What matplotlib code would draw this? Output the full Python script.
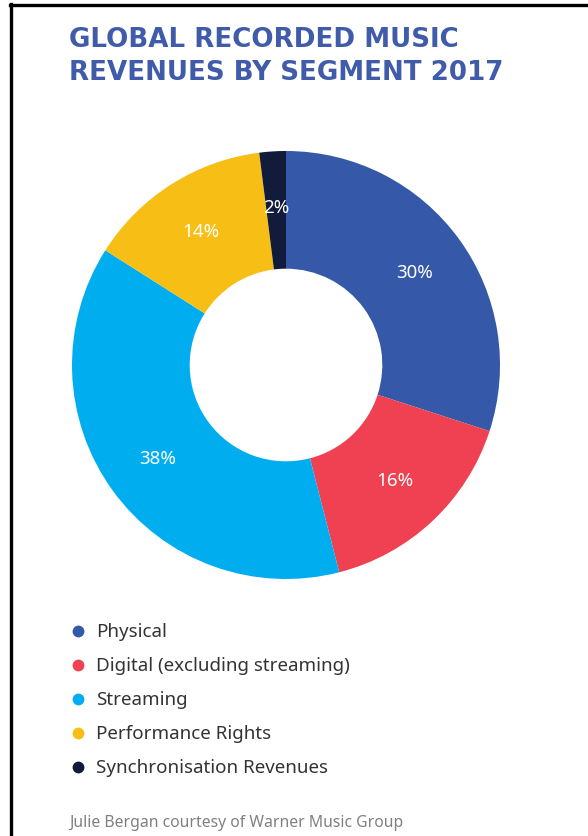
import matplotlib.pyplot as plt
from matplotlib.lines import Line2D

# revenue share by segment, 2017
segments = ["Physical", "Digital (excluding streaming)", "Streaming",
            "Performance Rights", "Synchronisation Revenues"]
shares = [30, 16, 38, 14, 2]
colors = ["#3558a8", "#ef4152", "#00aeef", "#f7be16", "#111b3a"]

title = ["GLOBAL RECORDED MUSIC", "REVENUES BY SEGMENT 2017"]
credit = "Julie Bergan courtesy of Warner Music Group"

W, H = 588, 837
fig = plt.figure(figsize=(W / 100, H / 100), dpi=100)
fig.patch.set_facecolor("white")

# donut, centre (286, 366) px, radius 214 px
cx, cy, r = 286, 366, 214
ax = fig.add_axes([(cx - r) / W, (H - cy - r) / H, 2 * r / W, 2 * r / H])
wedges, texts, autotexts = ax.pie(
    shares, colors=colors, startangle=90, counterclock=False,
    wedgeprops=dict(width=0.55, linewidth=0),
    autopct="%d%%", pctdistance=0.74,
    textprops=dict(color="white", fontsize=13.5, family="Noto Sans"))
ax.set_xlim(-1, 1)
ax.set_ylim(-1, 1)
ax.set_aspect("equal")
ax.axis("off")

# overlay in pixel coordinates for frame, title, legend, credit
ov = fig.add_axes([0, 0, 1, 1], zorder=-1)
ov.set_xlim(0, W)
ov.set_ylim(H, 0)
ov.axis("off")

ov.add_line(Line2D([11, 11], [5, H], color="black", lw=2.4))
ov.add_line(Line2D([10, W], [6, 6], color="black", lw=2.4))

for i, line in enumerate(title):
    ov.text(69, 47 + i * 33, line, color="#3f5ba9", fontsize=18.8,
            fontweight="bold", family="DejaVu Sans", va="baseline", ha="left")

for i, (lab, col) in enumerate(zip(segments, colors)):
    y = 632 + i * 34
    ov.plot(78, y, "o", color=col, markersize=8.5, markeredgewidth=0)
    ov.text(96, y, lab, color="#333333", fontsize=13.5, family="Noto Sans",
            va="center", ha="left")

ov.text(69, 823, credit, color="#808080", fontsize=11.3, family="Noto Sans",
        va="center", ha="left")

fig.savefig("out.png", dpi=100)
